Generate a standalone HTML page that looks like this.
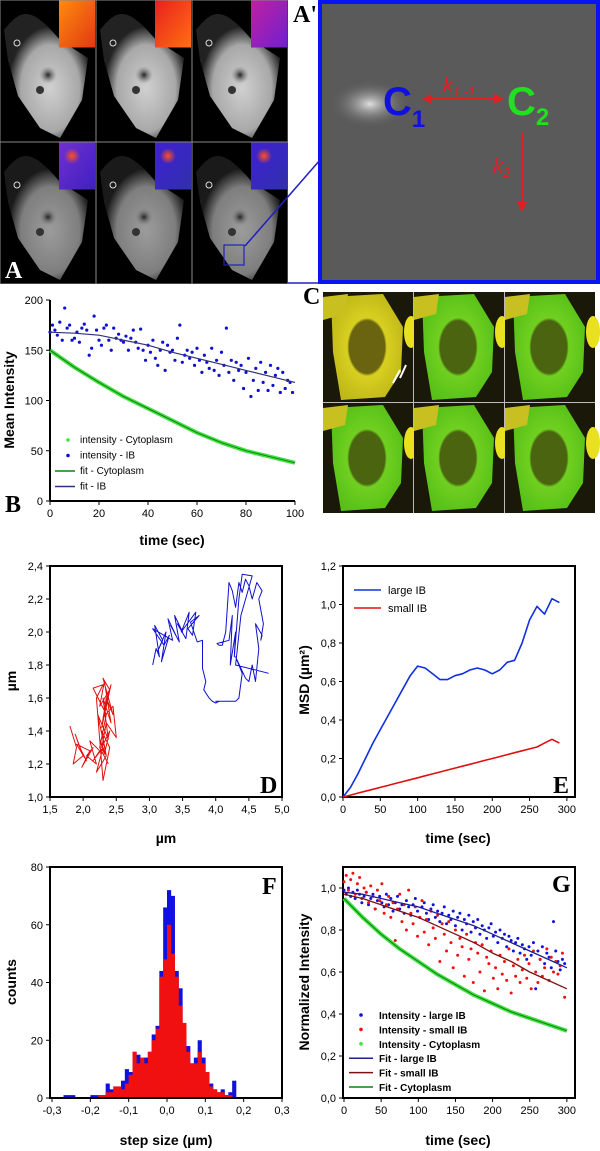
<!DOCTYPE html>
<html><head><meta charset="utf-8"><style>
html,body{margin:0;padding:0;background:#fff}
svg{display:block;font-family:"Liberation Sans",sans-serif}
.tk{font-size:11px;fill:#000}
.ti{font-size:14px;font-weight:bold;fill:#000}
.pl{font-family:"Liberation Serif",serif;font-weight:bold;font-size:24px}
.lg{font-size:10px}
</style></head><body>
<svg id="fig" width="600" height="1151" viewBox="0 0 600 1151" xmlns="http://www.w3.org/2000/svg">
<defs>
<radialGradient id="cellg" cx="0.55" cy="0.6" r="0.5"><stop offset="0" stop-color="#d0d0d0"/><stop offset="0.7" stop-color="#a8a8a8"/><stop offset="1" stop-color="#222"/></radialGradient>
<radialGradient id="nuc" cx="0.5" cy="0.5" r="0.5"><stop offset="0" stop-color="#222"/><stop offset="1" stop-color="#888" stop-opacity="0"/></radialGradient>
<linearGradient id="hot1" x1="0" y1="0" x2="1" y2="1"><stop offset="0" stop-color="#ff8a10"/><stop offset="1" stop-color="#e03a10"/></linearGradient>
<linearGradient id="hot2" x1="0" y1="0" x2="1" y2="1"><stop offset="0" stop-color="#e82020"/><stop offset="1" stop-color="#ff7010"/></linearGradient>
<linearGradient id="hot3" x1="0" y1="0" x2="1" y2="1"><stop offset="0" stop-color="#c020a0"/><stop offset="1" stop-color="#7020d0"/></linearGradient>
<linearGradient id="hot4" x1="0" y1="0" x2="1" y2="1"><stop offset="0" stop-color="#7030d0"/><stop offset="1" stop-color="#4020c0"/></linearGradient>
<linearGradient id="hot5" x1="0" y1="0" x2="1" y2="1"><stop offset="0" stop-color="#4020d0"/><stop offset="1" stop-color="#3030b0"/></linearGradient>
<radialGradient id="spot" cx="0.5" cy="0.5" r="0.5"><stop offset="0" stop-color="#ff5020"/><stop offset="1" stop-color="#ff5020" stop-opacity="0"/></radialGradient>
<radialGradient id="apspot" cx="0.5" cy="0.5" r="0.5"><stop offset="0" stop-color="#e0e0e0"/><stop offset="1" stop-color="#5a5a5a" stop-opacity="0"/></radialGradient>
<radialGradient id="ycell" cx="0.5" cy="0.5" r="0.55"><stop offset="0" stop-color="#6a6410"/><stop offset="0.45" stop-color="#6a6410"/><stop offset="0.5" stop-color="#d8d020"/><stop offset="1" stop-color="#c0b818"/></radialGradient>
<radialGradient id="gcell" cx="0.5" cy="0.5" r="0.55"><stop offset="0" stop-color="#4a6410"/><stop offset="0.45" stop-color="#4a6410"/><stop offset="0.5" stop-color="#70d020"/><stop offset="1" stop-color="#58c018"/></radialGradient>
<marker id="arr" viewBox="0 0 10 10" refX="8" refY="5" markerWidth="5" markerHeight="5" orient="auto-start-reverse"><path d="M0,0L10,5L0,10z" fill="#e02020"/></marker>
</defs>
<g id="panelA"></g>
<g>
<rect x="320" y="2" width="278" height="280" fill="#5a5a5a" stroke="#0a14f0" stroke-width="4"/>
<ellipse cx="370" cy="104" rx="40" ry="24" fill="url(#apspot)"/>
<line x1="288" y1="283" x2="320" y2="283" stroke="#2020c0" stroke-width="1.5"/>
<line x1="245" y1="246" x2="320" y2="160" stroke="#2020c0" stroke-width="1.5"/>
<text x="293" y="22" class="pl" font-size="20">A'</text>
<text x="383" y="115" font-size="40" font-weight="bold" fill="#1010e0">C<tspan font-size="24" dy="12">1</tspan></text>
<text x="507" y="115" font-size="40" font-weight="bold" fill="#20e020">C<tspan font-size="24" dy="10">2</tspan></text>
<line x1="424" y1="99" x2="502" y2="99" stroke="#e02020" stroke-width="2" marker-start="url(#arr)" marker-end="url(#arr)"/>
<text x="443" y="92" font-size="20" font-style="italic" fill="#e02020">k<tspan font-size="13" dy="4">1,-1</tspan></text>
<line x1="522" y1="132" x2="522" y2="210" stroke="#e02020" stroke-width="2" marker-end="url(#arr)"/>
<text x="493" y="173" font-size="20" font-style="italic" fill="#e02020">k<tspan font-size="13" dy="4">2</tspan></text>
</g>
<g id="panelC"></g>
<text x="303" y="304" class="pl">C</text>
<g id="chartB"></g>
<g id="chartD"></g>
<g id="chartE"></g>
<g id="chartF"></g>
<g id="chartG"></g>
</svg>
<script>
// ---------- data ----------
const bTime = Array.from({length:100},(_, i)=>i);
const bIB = [168,175,170,165,178,160,192,172,175,160,162,168,158,172,176,170,145,152,184,170,160,155,172,175,160,150,172,162,166,160,158,164,150,162,170,158,152,171,150,140,155,148,160,142,135,150,158,130,155,148,150,140,162,175,138,145,150,142,148,135,152,140,128,145,138,132,152,130,140,125,148,135,172,128,140,120,138,130,135,112,128,142,104,120,132,110,138,118,128,110,135,115,125,132,108,128,112,120,118,108];
const bFitT = [0,10,20,30,40,50,60,70,80,90,100];
const bCyto = [150,133,118,104,92,80,68,58,50,44,38];
const bFitIB = [168,167,165,160,155,148,142,136,130,124,118];
const bXTicks = [0,20,40,60,80,100];
const bYTicks = [0,50,100,150,200];

const dBlueX = [3.05,3.1,3.15,3.08,3.2,3.12,3.25,3.18,3.3,3.22,3.05,3.35,3.28,3.4,3.32,3.45,3.38,3.5,3.42,3.55,3.6,3.48,3.7,3.65,3.58,3.75,3.62,3.72,3.8,3.8,3.85,3.82,3.9,3.95,4.0,4.05,4.0,4.3,4.35,4.4,4.3,4.45,4.5,4.55,4.6,4.65,4.6,4.7,4.68,4.72,4.65,4.7,4.62,4.55,4.5,4.45,4.4,4.35,4.3,4.25,4.2,4.15,4.1,4.05,4.02,4.2,4.25,4.22,4.3,4.28,4.35,4.4,4.55,4.38,4.3,4.8];
const dBlueY = [1.8,1.9,1.85,2.04,1.95,1.88,2.0,1.82,1.98,1.92,2.02,1.95,2.08,1.98,2.04,1.94,2.1,2.0,2.05,1.96,2.12,2.0,2.12,1.98,2.02,2.1,2.06,1.94,1.95,1.78,1.7,1.65,1.6,1.58,1.57,1.58,1.58,1.58,1.6,1.75,1.85,1.72,1.7,1.8,1.7,1.9,2.05,1.98,1.95,2.05,2.2,2.25,2.3,2.2,2.28,2.32,2.24,2.3,2.15,2.25,2.3,2.0,1.92,1.92,1.93,1.95,2.1,1.8,2.0,1.85,2.2,2.35,2.34,2.1,1.8,1.75];
const dRedX = [1.8,1.9,1.85,2.0,1.88,1.95,2.05,1.9,2.1,1.98,2.15,2.05,2.2,2.1,2.25,2.15,2.3,2.2,2.35,2.25,2.3,2.4,2.28,2.35,2.22,2.38,2.3,2.42,2.32,2.25,2.4,2.3,2.45,2.35,2.28,2.42,2.33,2.38,2.3,2.45,2.5,2.35,2.28,2.4,2.32,2.25,2.2,2.3,2.15,2.35,2.25,2.38];
const dRedY = [1.43,1.3,1.2,1.25,1.38,1.3,1.22,1.32,1.28,1.18,1.3,1.25,1.2,1.34,1.28,1.22,1.3,1.15,1.25,1.35,1.1,1.3,1.4,1.25,1.5,1.35,1.6,1.45,1.7,1.55,1.65,1.72,1.5,1.6,1.42,1.68,1.55,1.62,1.48,1.55,1.36,1.45,1.3,1.4,1.26,1.35,1.6,1.68,1.66,1.5,1.3,1.2];
const dXTicks = [1.5,2.0,2.5,3.0,3.5,4.0,4.5,5.0];
const dYTicks = [1.0,1.2,1.4,1.6,1.8,2.0,2.2,2.4];

const eTime = [0,10,20,30,40,50,60,70,80,90,100,110,120,130,140,150,160,170,180,190,200,210,220,230,240,250,260,270,280,290];
const eLarge = [0,0.05,0.12,0.20,0.28,0.35,0.42,0.49,0.56,0.63,0.68,0.67,0.64,0.61,0.61,0.63,0.64,0.66,0.67,0.66,0.64,0.66,0.70,0.71,0.80,0.92,0.99,0.95,1.03,1.01];
const eSmall = [0,0.01,0.02,0.03,0.04,0.05,0.06,0.07,0.08,0.09,0.10,0.11,0.12,0.13,0.14,0.15,0.16,0.17,0.18,0.19,0.20,0.21,0.22,0.23,0.24,0.25,0.26,0.28,0.30,0.28];
const eXTicks = [0,50,100,150,200,250,300];
const eYTicks = [0,0.2,0.4,0.6,0.8,1.0,1.2];

const fBinLeft = [-0.27,-0.26,-0.25,-0.24,-0.23,-0.22,-0.21,-0.20,-0.19,-0.18,-0.17,-0.16,-0.15,-0.14,-0.13,-0.12,-0.11,-0.10,-0.09,-0.08,-0.07,-0.06,-0.05,-0.04,-0.03,-0.02,-0.01,0.00,0.01,0.02,0.03,0.04,0.05,0.06,0.07,0.08,0.09,0.10,0.11,0.12,0.13,0.14,0.15,0.16,0.17];
const fBlue = [1,1,1,0,0,0,0,1,1,1,1,5,3,4,4,6,10,9,16,15,13,14,16,22,25,44,66,72,70,44,38,22,18,12,14,20,14,9,5,3,2,3,1,2,6];
const fRed = [0,0,0,0,0,0,0,0,0,1,1,2,2,4,4,3,5,8,16,12,14,12,16,20,24,42,48,60,50,42,32,26,16,12,12,16,12,9,4,3,2,2,1,1,0];
const fXTicks = [-0.3,-0.2,-0.1,0.0,0.1,0.2,0.3];
const fYTicks = [0,20,40,60,80];

const gTime = Array.from({length:100},(_, i)=>i*3);
const gLarge = [0.99,0.97,1.00,0.96,0.98,0.95,0.99,0.97,0.93,0.96,0.98,0.92,0.95,0.97,0.90,0.94,0.96,0.93,0.91,0.97,0.92,0.95,0.89,0.93,0.96,0.90,0.92,0.88,0.94,0.91,0.87,0.92,0.95,0.89,0.86,0.91,0.93,0.88,0.85,0.90,0.92,0.86,0.89,0.84,0.88,0.91,0.83,0.87,0.85,0.89,0.82,0.86,0.88,0.80,0.85,0.83,0.87,0.79,0.84,0.81,0.85,0.78,0.82,0.80,0.76,0.81,0.83,0.77,0.79,0.74,0.80,0.76,0.78,0.72,0.77,0.75,0.70,0.74,0.76,0.69,0.73,0.71,0.66,0.72,0.68,0.74,0.52,0.70,0.66,0.72,0.64,0.69,0.67,0.62,0.84,0.70,0.65,0.61,0.66,0.64];
const gSmall = [1.03,1.06,0.99,1.04,1.07,0.97,1.02,1.05,0.95,1.00,0.98,0.93,1.01,0.96,0.90,0.99,0.94,1.02,0.88,0.92,0.96,0.86,0.93,0.75,0.90,0.97,0.84,0.92,0.80,0.99,0.88,0.83,0.91,0.77,0.86,0.94,0.79,0.85,0.73,0.89,0.81,0.76,0.87,0.65,0.83,0.78,0.70,0.84,0.74,0.62,0.80,0.68,0.76,0.72,0.58,0.78,0.66,0.71,0.55,0.74,0.69,0.60,0.73,0.51,0.67,0.64,0.70,0.57,0.62,0.52,0.68,0.59,0.65,0.56,0.71,0.50,0.63,0.58,0.66,0.55,0.61,0.68,0.57,0.64,0.52,0.70,0.60,0.55,0.66,0.58,0.62,0.71,0.56,0.67,0.60,0.65,0.59,0.63,0.69,0.48];
const gFitT = [0,25,50,75,100,125,150,175,200,225,250,275,300];
const gCyto = [0.95,0.86,0.78,0.71,0.65,0.59,0.54,0.49,0.45,0.41,0.38,0.35,0.32];
const gFitLarge = [0.98,0.97,0.95,0.93,0.91,0.88,0.85,0.82,0.78,0.74,0.70,0.66,0.62];
const gFitSmall = [0.97,0.95,0.92,0.89,0.86,0.82,0.78,0.74,0.69,0.65,0.60,0.56,0.52];
const gXTicks = [0,50,100,150,200,250,300];
const gYTicks = [0,0.2,0.4,0.6,0.8,1.0];

// ---------- helpers ----------
const NS='http://www.w3.org/2000/svg';
function mk(parent,tag,attrs,text){const e=document.createElementNS(NS,tag);for(const k in attrs)e.setAttribute(k,attrs[k]);if(text!==undefined)e.textContent=text;parent.appendChild(e);return e;}
function lin(d0,d1,r0,r1){return v=>r0+(v-d0)*(r1-r0)/(d1-d0);}
function fmt(v,dec){return v.toFixed(dec).replace('.',',');}
function axes(g,sx,sy,xt,yt,box,xdec,ydec,x0,x1,y0,y1){
  if(box){const r=mk(g,'rect',{x:x0,y:y1,width:x1-x0,height:y0-y1,fill:'none',stroke:'#000','stroke-width':2});
    
    }
  else{mk(g,'line',{x1:x0,y1:y0,x2:x1,y2:y0,stroke:'#000','stroke-width':2});mk(g,'line',{x1:x0,y1:y0,x2:x0,y2:y1,stroke:'#000','stroke-width':2});}
  xt.forEach(v=>{const x=sx(v);mk(g,'line',{x1:x,y1:y0,x2:x,y2:y0+4,stroke:'#000'});
    const t=mk(g,'text',{x:x,y:y0+16,'text-anchor':'middle',class:'tk'},fmt(v,xdec));
    
    });
  yt.forEach(v=>{const y=sy(v);mk(g,'line',{x1:x0-4,y1:y,x2:x0,y2:y,stroke:'#000'});
    const t=mk(g,'text',{x:x0-7,y:y+4,'text-anchor':'end',class:'tk'},fmt(v,ydec));
    
    });
}
function poly(g,xs,ys,sx,sy,color,w,name){const n=Math.min(xs.length,ys.length);let p='';for(let i=0;i<n;i++)p+=(i?'L':'M')+sx(xs[i]).toFixed(1)+','+sy(ys[i]).toFixed(1);
  const e=mk(g,'path',{d:p,fill:'none',stroke:color,'stroke-width':w,'stroke-linejoin':'round'});
  
  return e;}
function dots(g,xs,ys,sx,sy,color,r,name){const n=Math.min(xs.length,ys.length);for(let i=0;i<n;i++){const c=mk(g,'circle',{cx:sx(xs[i]),cy:sy(ys[i]),r:r,fill:color});
  
  }}
function title(g,x,y,txt,rot,name){const t=mk(g,'text',{x:x,y:y,'text-anchor':'middle',class:'ti',transform:rot?`rotate(-90 ${x} ${y})`:''},txt);
  
  return t;}
function letter(g,x,y,txt,fill){const t=mk(g,'text',{x:x,y:y,class:'pl',fill:fill||'#000'},txt);
  
  }

// ---------- panel A images ----------
(function(){const g=document.getElementById('panelA');const insets=['url(#hot1)','url(#hot2)','url(#hot3)','url(#hot4)','url(#hot5)','url(#hot5)'];
 mk(g,'rect',{x:0,y:0,width:288,height:284,fill:'#888'});
 for(let r=0;r<2;r++)for(let c=0;c<3;c++){const x=c*96,y=r*142,i=r*3+c;
  const cell=mk(g,'g',{});
  
  
  mk(cell,'rect',{x:x+0.5,y:y+0.5,width:95,height:141,fill:'#000'});
  const b=r?0.75:1;
  mk(cell,'path',{d:`M${x+4},${y+30}C${x+20},${y+10} ${x+30},${y+4} ${x+60},${y+40}L${x+88},${y+58}L${x+82},${y+100}L${x+60},${y+138}L${x+40},${y+128}L${x+18},${y+96}L${x+8},${y+60}Z`,fill:'url(#cellg)',opacity:b});
  mk(cell,'circle',{cx:x+48,cy:y+75,r:9,fill:'url(#nuc)'});
  mk(cell,'circle',{cx:x+40,cy:y+90,r:4,fill:'#333'});
  mk(cell,'circle',{cx:x+17,cy:y+43,r:3,fill:'none',stroke:'#ddd','stroke-width':1});
  mk(cell,'rect',{x:x+59,y:y+0.5,width:36,height:47,fill:insets[i]});
  if(r)mk(cell,'circle',{cx:x+72,cy:y+14,r:8,fill:'url(#spot)'});
 }
 mk(g,'rect',{x:224,y:245,width:20,height:20,fill:'none',stroke:'#2020c0','stroke-width':1.2});
 letter(g,5,278,'A','#fff');
})();

// ---------- panel C images ----------
(function(){const g=document.getElementById('panelC');
 mk(g,'rect',{x:323,y:292,width:272,height:221,fill:'#bbb'});
 for(let r=0;r<2;r++)for(let c=0;c<3;c++){const x=323+c*91,y=292+r*111,i=r*3+c;
  const cell=mk(g,'g',{});
  
  
  mk(cell,'rect',{x:x,y:y,width:90,height:110,fill:'#1a1808'});
  mk(cell,'path',{d:`M${x+8},${y+5}L${x+60},${y+2}L${x+80},${y+35}L${x+78},${y+80}L${x+62},${y+105}L${x+18},${y+108}L${x+10},${y+60}Z`,fill:i===0?'url(#ycell)':'url(#gcell)'});
  mk(cell,'path',{d:`M${x},${y+5}L${x+25},${y+2}L${x+22},${y+22}L${x},${y+28}Z`,fill:'#c8c020'});
  mk(cell,'ellipse',{cx:x+88,cy:y+40,rx:7,ry:16,fill:'#e8e020'});
 }
 mk(g,'path',{d:'M400,370L393,383M406,365L400,378',stroke:'#fff','stroke-width':2});
})();

// ---------- chart B ----------
(function(){const g=document.getElementById('chartB');const x0=50,x1=295,y0=501,y1=300;
 const sx=lin(0,100,x0,x1),sy=lin(0,200,y0,y1);
 axes(g,sx,sy,bXTicks,bYTicks,false,0,0,x0,x1,y0,y1);
 poly(g,bFitT,bCyto,sx,sy,'#40e040',4,'cytoplasm-intensity');
 poly(g,bFitT,bCyto,sx,sy,'#108010',1,'fit-cytoplasm');
 dots(g,bTime,bIB,sx,sy,'#1010d0',1.6,'ib-intensity-point');
 poly(g,bFitT,bFitIB,sx,sy,'#303080',1.2,'fit-ib');
 title(g,172,545,'time (sec)',false,'x-axis-title');
 title(g,14,400,'Mean Intensity',true,'y-axis-title');
 const L=[['dot','#40e040','intensity - Cytoplasm'],['dot','#1010d0','intensity - IB'],['line','#108010','fit - Cytoplasm'],['line','#303080','fit - IB']];
 L.forEach((l,i)=>{const y=440+i*15.5;const e=mk(g,'g',{});
  
  
  if(l[0]==='dot')mk(e,'circle',{cx:68,cy:y,r:1.8,fill:l[1]});else mk(e,'line',{x1:55,y1:y,x2:75,y2:y,stroke:l[1],'stroke-width':1.5});
  mk(e,'text',{x:80,y:y+3,class:'lg'},l[2]);});
 letter(g,5,512,'B');
})();

// ---------- chart D ----------
(function(){const g=document.getElementById('chartD');const x0=50,x1=282,y0=797,y1=566;
 const sx=lin(1.5,5.0,x0,x1),sy=lin(1.0,2.4,y0,y1);
 axes(g,sx,sy,dXTicks,dYTicks,true,1,1,x0,x1,y0,y1);
 poly(g,dBlueX,dBlueY,sx,sy,'#1010d0',1,'blue-trajectory');
 poly(g,dRedX,dRedY,sx,sy,'#e01010',1,'red-trajectory');
 title(g,166,843,'µm',false,'x-axis-title');
 title(g,16,681,'µm',true,'y-axis-title');
 letter(g,260,793,'D');
})();

// ---------- chart E ----------
(function(){const g=document.getElementById('chartE');const x0=343,x1=575,y0=797,y1=566;
 const sx=lin(0,300,x0,x0+(x1-x0)*0.965),sy=lin(0,1.2,y0,y1);
 axes(g,sx,sy,eXTicks,eYTicks,true,0,1,x0,x1,y0,y1);
 poly(g,eTime,eLarge,sx,sy,'#1030e0',1.6,'msd-large-ib');
 poly(g,eTime,eSmall,sx,sy,'#e01010',1.6,'msd-small-ib');
 title(g,458,843,'time (sec)',false,'x-axis-title');
 title(g,309,680,'MSD (µm²)',true,'y-axis-title');
 [['#1030e0','large IB'],['#e01010','small IB']].forEach((l,i)=>{const y=590+i*18;const e=mk(g,'g',{});
  
  
  mk(e,'line',{x1:354,y1:y,x2:381,y2:y,stroke:l[0],'stroke-width':1.5});mk(e,'text',{x:388,y:y+4,style:'font-size:11px'},l[1]);});
 letter(g,553,793,'E');
})();

// ---------- chart F ----------
(function(){const g=document.getElementById('chartF');const x0=50,x1=282,y0=1098,y1=867;
 const sx=lin(-0.3,0.3,x0+2,x1),sy=lin(0,80,y0,y1);
 const w=0.01;
 fBinLeft.forEach((b,i)=>{const r=mk(g,'rect',{x:sx(b),y:sy(fBlue[i]),width:sx(b+w)-sx(b)+0.3,height:y0-sy(fBlue[i]),fill:'#1010e0'});
  
  });
 fBinLeft.forEach((b,i)=>{const r=mk(g,'rect',{x:sx(b),y:sy(fRed[i]),width:sx(b+w)-sx(b)+0.3,height:y0-sy(fRed[i]),fill:'#f01010'});
  
  });
 axes(g,sx,sy,fXTicks,fYTicks,true,1,0,x0,x1,y0,y1);
 title(g,166,1145,'step size (µm)',false,'x-axis-title');
 title(g,16,982,'counts',true,'y-axis-title');
 letter(g,262,894,'F');
})();

// ---------- chart G ----------
(function(){const g=document.getElementById('chartG');const x0=343,x1=575,y0=1098,y1=867;
 const sx=lin(0,300,x0+1,x0+(x1-x0)*0.965),sy=lin(0,1.0,y0,888);
 axes(g,sx,sy,gXTicks,gYTicks,true,0,1,x0,x1,y0,y1);
 poly(g,gFitT,gCyto,sx,sy,'#40e040',4,'cytoplasm-intensity');
 dots(g,gTime,gLarge,sx,sy,'#1010e0',1.5,'large-ib-point');
 dots(g,gTime,gSmall,sx,sy,'#f01010',1.5,'small-ib-point');
 poly(g,gFitT,gFitLarge,sx,sy,'#202090',1.3,'fit-large-ib');
 poly(g,gFitT,gFitSmall,sx,sy,'#801010',1.3,'fit-small-ib');
 poly(g,gFitT,gCyto,sx,sy,'#108010',1,'fit-cytoplasm');
 title(g,458,1145,'time (sec)',false,'x-axis-title');
 title(g,309,982,'Normalized Intensity',true,'y-axis-title');
 const L=[['dot','#1010e0','Intensity - large IB'],['dot','#f01010','Intensity - small IB'],['dot','#40e040','Intensity - Cytoplasm'],['line','#202090','Fit - large IB'],['line','#801010','Fit - small IB'],['line','#108010','Fit - Cytoplasm']];
 L.forEach((l,i)=>{const y=1015+i*14.4;const e=mk(g,'g',{});
  
  
  if(l[0]==='dot')mk(e,'circle',{cx:361,cy:y,r:1.8,fill:l[1]});else mk(e,'line',{x1:349,y1:y,x2:373,y2:y,stroke:l[1],'stroke-width':1.5});
  mk(e,'text',{x:379,y:y+4,style:'font-size:10px;font-weight:bold'},l[2]);});
 letter(g,552,892,'G');
})();
</script>
</body></html>
